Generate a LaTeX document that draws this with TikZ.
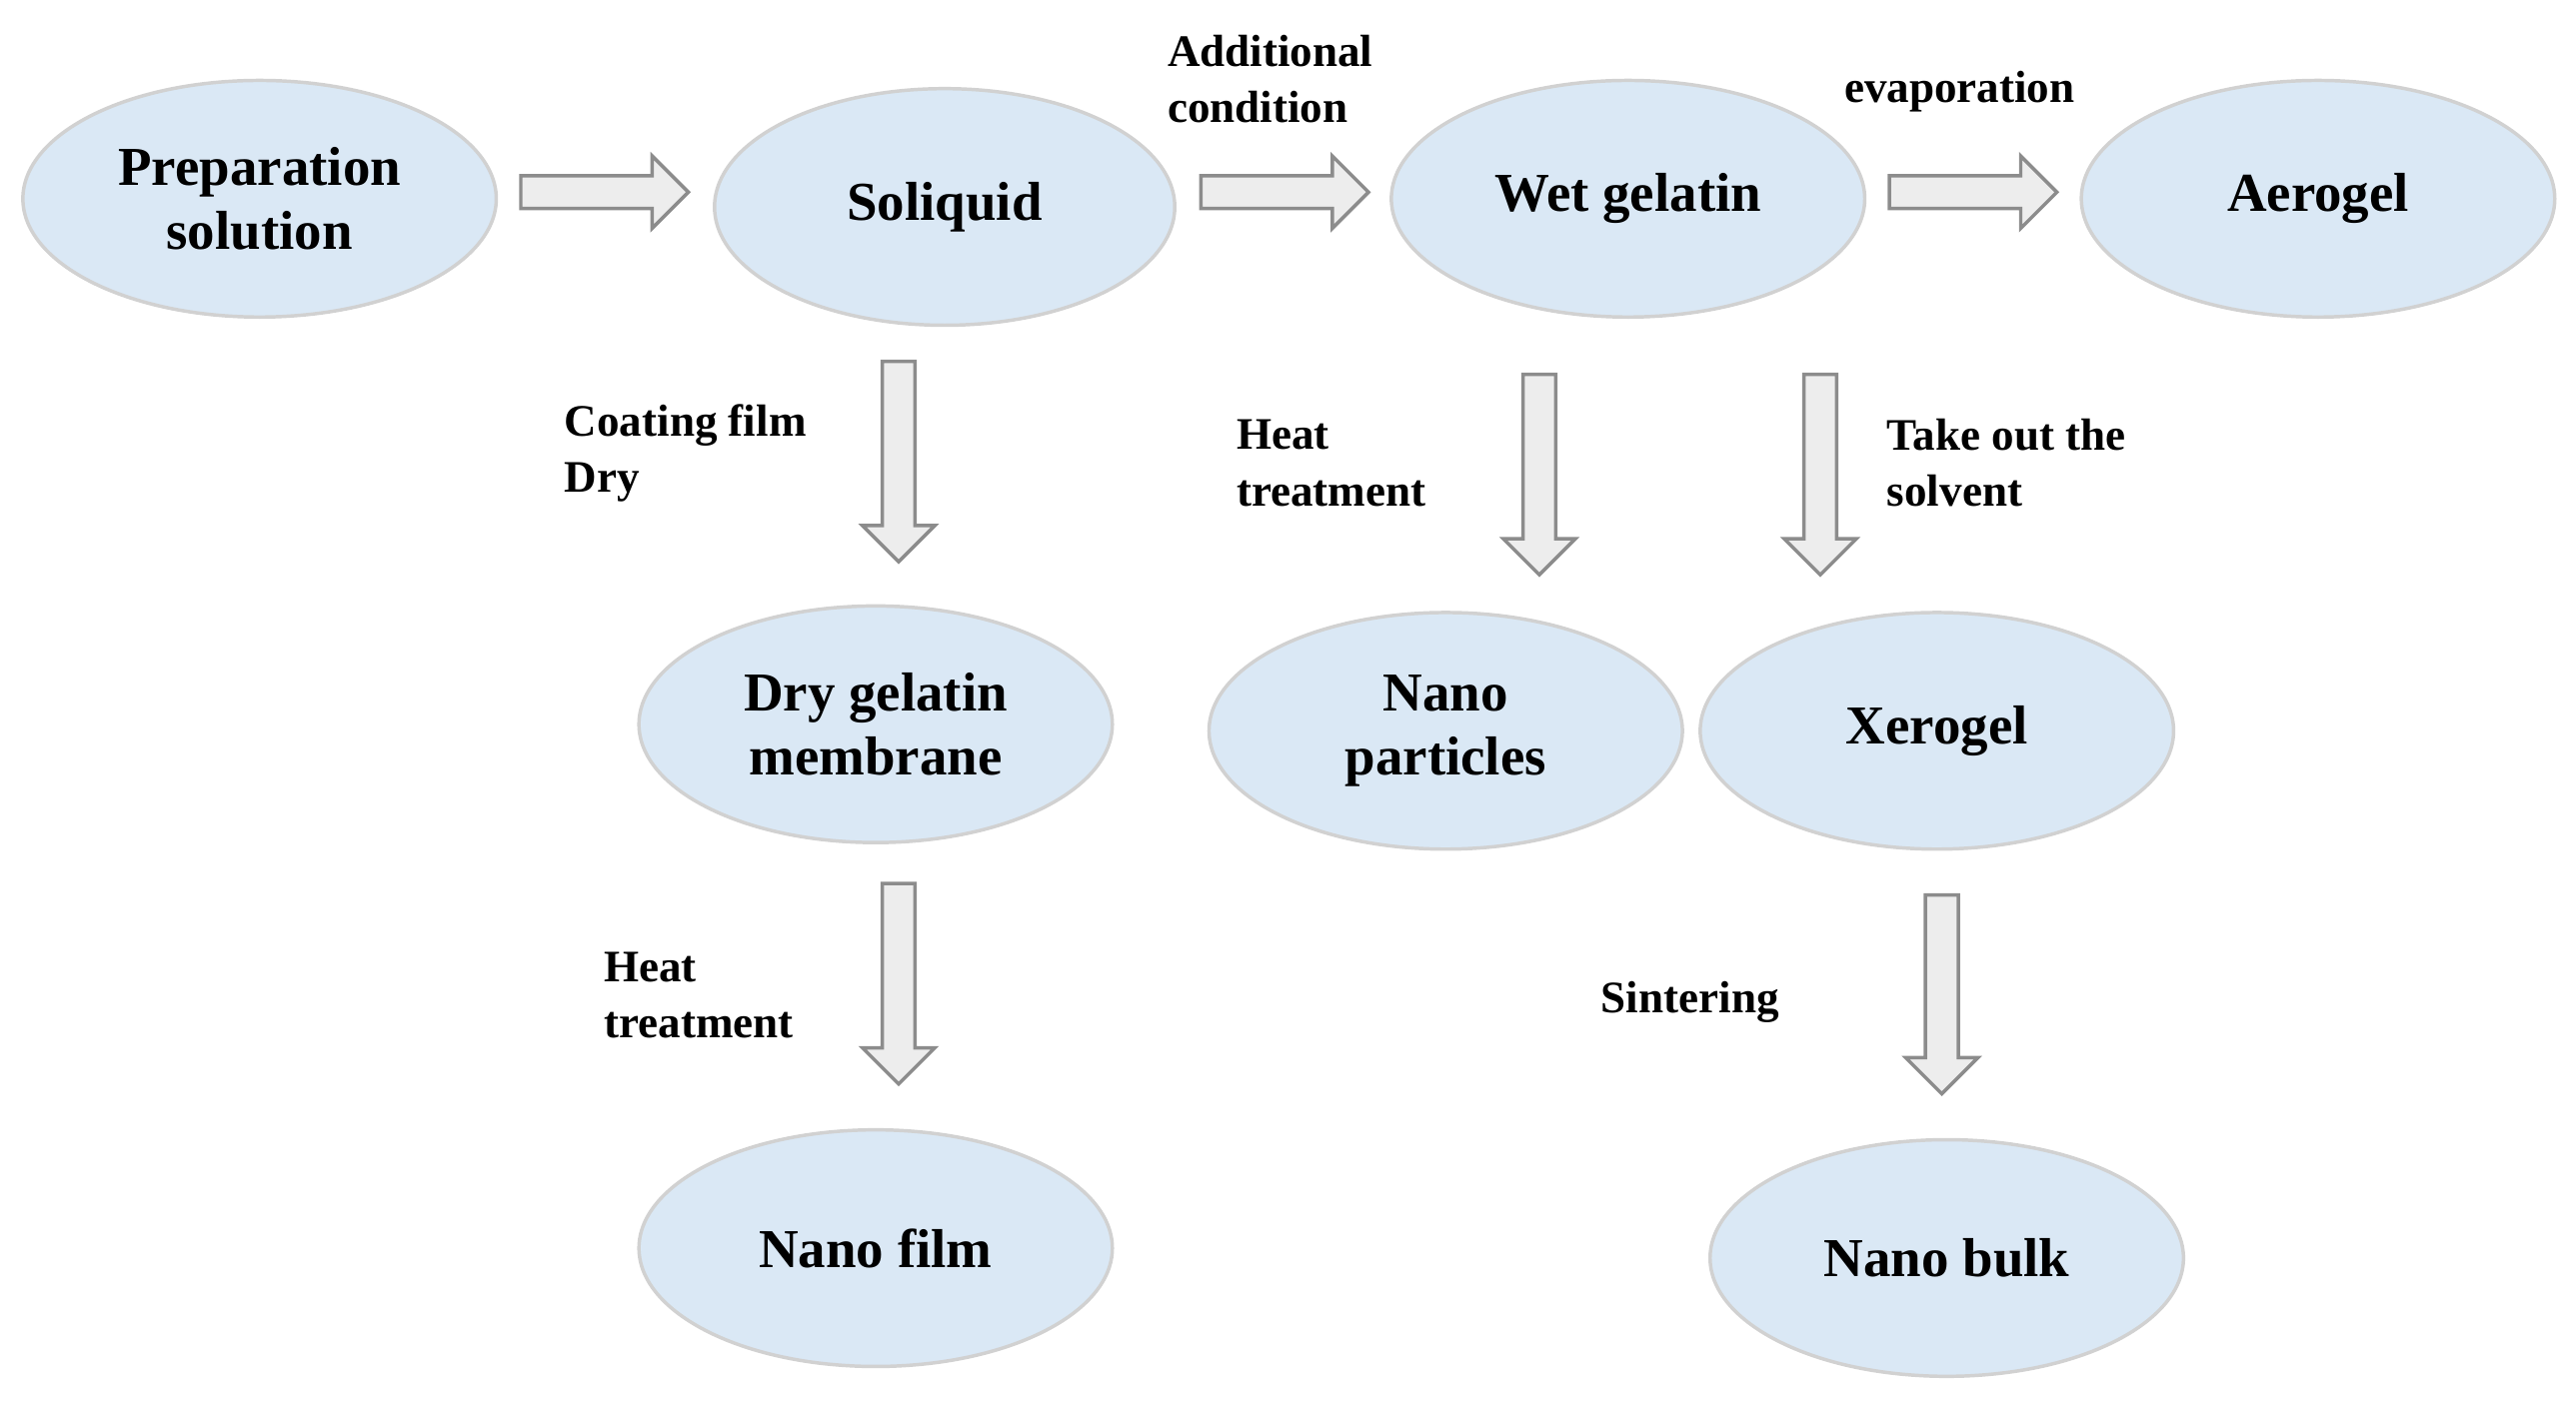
\documentclass[tikz,border=0pt]{standalone}
\usepackage{fontspec}
\setmainfont{Liberation Serif}
\begin{document}
\begin{tikzpicture}[x=0.01cm,y=-0.01cm,
  ell/.style={ellipse,draw=black!18,line width=0.6pt,fill={rgb,255:red,218;green,232;blue,245},minimum width=288\pgflinewidth*0+2.88cm,minimum height=1.44cm,align=center,font=\fontsize{9.5}{11}\selectfont\bfseries,inner sep=0pt},
  lab/.style={anchor=west,align=left,font=\fontsize{7.8}{9.7}\selectfont\bfseries,inner sep=0pt},
  ba/.style={fill={rgb,255:red,237;green,237;blue,237},draw=black!45,line width=0.6pt}]
\usetikzlibrary{shapes.geometric}
\useasboundingbox (0,0) rectangle (1568,854);
\node[ell] (prep) at (158,121) {Preparation\\solution};
\node[ell,minimum width=2.8cm] (soli) at (575,126) {Soliquid};
\node[ell] (wet) at (991,121) {Wet gelatin};
\node[ell] (aero) at (1411,121) {Aerogel};
\node[ell] (dry) at (533,441) {Dry gelatin\\membrane};
\node[ell] (np) at (880,445) {Nano\\particles};
\node[ell] (xero) at (1179,445) {Xerogel};
\node[ell] (film) at (533,760) {Nano film};
\node[ell] (bulk) at (1185,766) {Nano bulk};
% horizontal block arrows
\newcommand\harr[3]{\draw[ba] (#1,#3-10) -- (#2-22,#3-10) -- (#2-22,#3-22) -- (#2,#3) -- (#2-22,#3+22) -- (#2-22,#3+10) -- (#1,#3+10) -- cycle;}
\newcommand\varr[3]{\draw[ba] (#1-10,#2) -- (#1-10,#3-22) -- (#1-22,#3-22) -- (#1,#3) -- (#1+22,#3-22) -- (#1+10,#3-22) -- (#1+10,#2) -- cycle;}
\harr{317}{419}{117}
\harr{731}{833}{117}
\harr{1150}{1252}{117}
\varr{547}{220}{342}
\varr{937}{228}{350}
\varr{1108}{228}{350}
\varr{547}{538}{660}
\varr{1182}{545}{666}
\node[lab] (l1) at (710,48) {Additional\\condition};
\node[lab] (l2) at (1122,56) {evaporation};
\node[lab] (l3) at (343,276) {Coating film\\Dry};
\node[lab] (l4) at (752,282) {Heat\\treatment};
\node[lab] (l5) at (1148,282) {Take out the\\solvent};
\node[lab] (l6) at (367,606) {Heat\\treatment};
\node[lab] (l7) at (974,610) {Sintering};
\end{tikzpicture}
\end{document}
